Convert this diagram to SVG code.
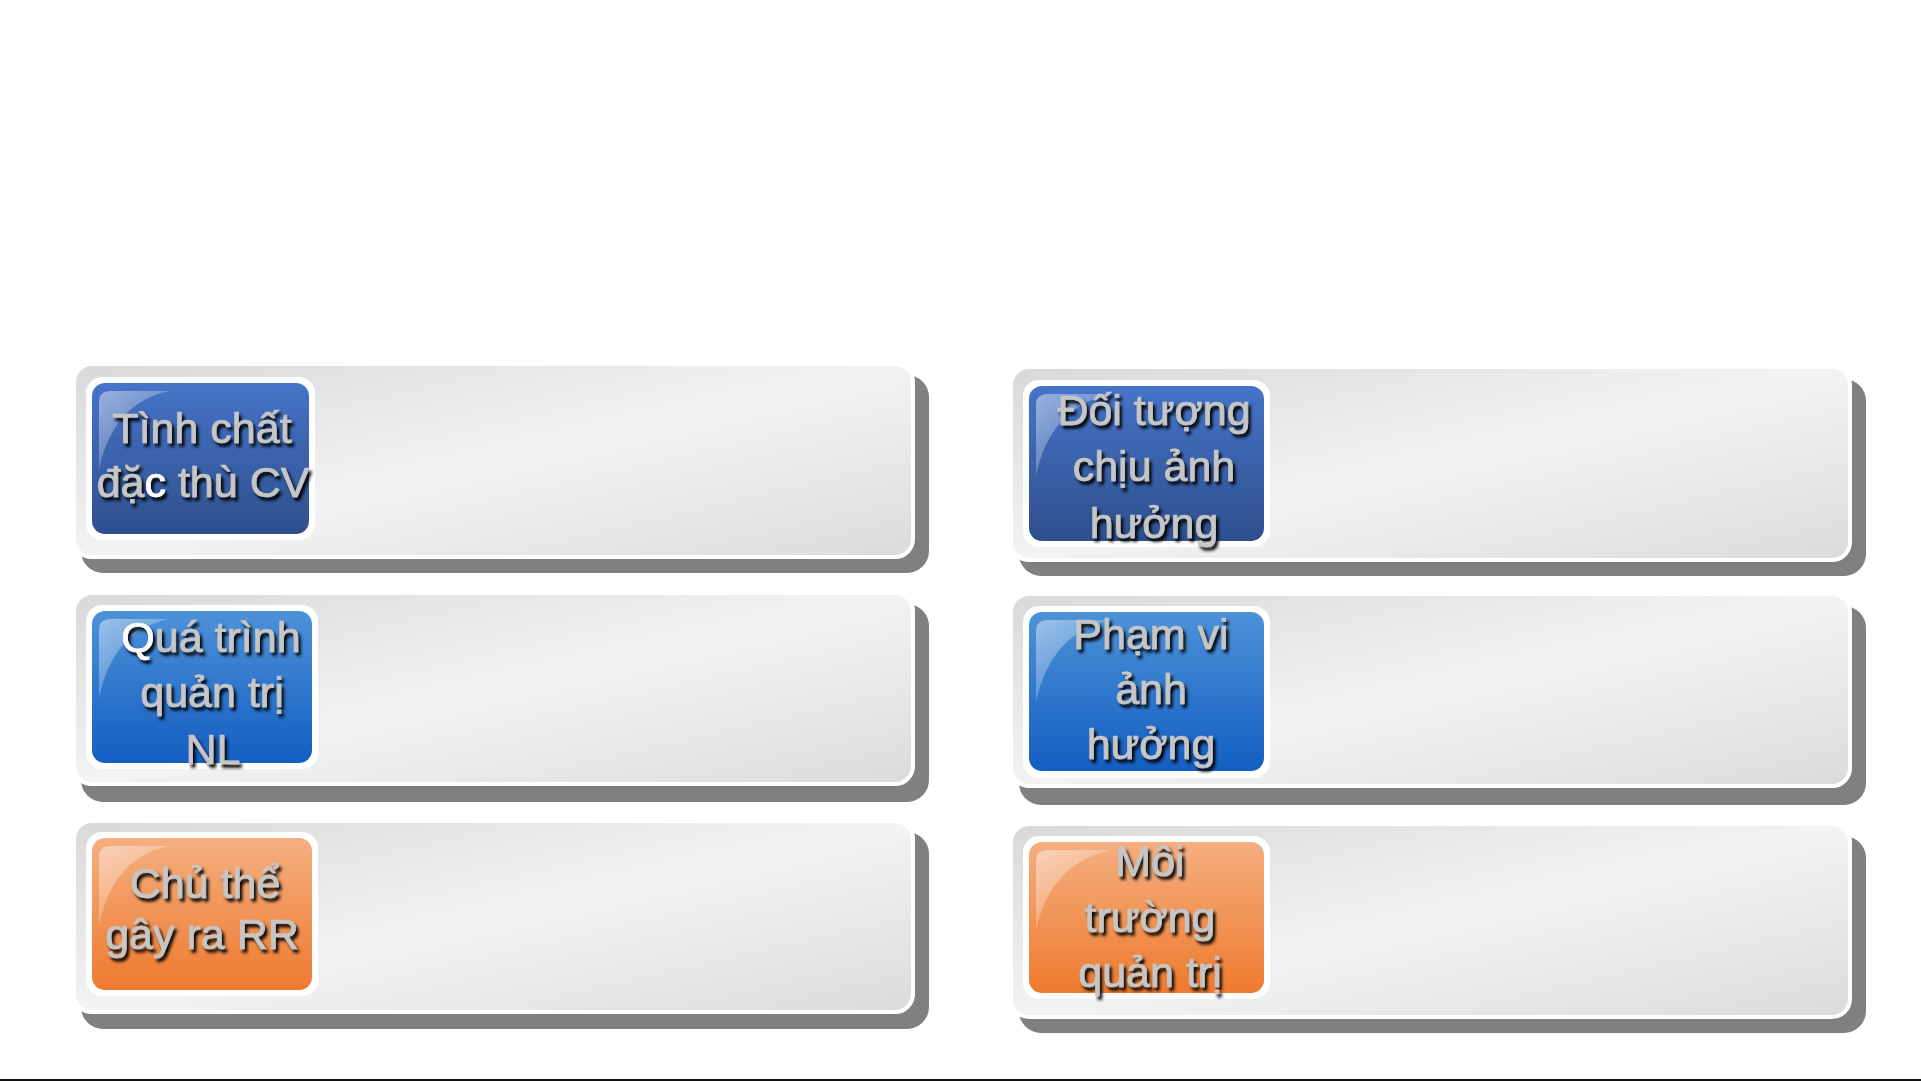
<svg xmlns="http://www.w3.org/2000/svg" width="1921" height="1081" viewBox="0 0 1921 1081">
<defs>
<linearGradient id="gPanel" x1="0" y1="0" x2="1" y2="1">
<stop offset="0" stop-color="#D9D9D9"/>
<stop offset="0.5" stop-color="#F3F3F3"/>
<stop offset="1" stop-color="#DBDBDB"/>
</linearGradient>
<linearGradient id="gDark" x1="0" y1="0" x2="0" y2="1">
<stop offset="0" stop-color="#4674C8"/>
<stop offset="1" stop-color="#2E4F8C"/>
</linearGradient>
<linearGradient id="gBlue" x1="0" y1="0" x2="0" y2="1">
<stop offset="0" stop-color="#4D92D8"/>
<stop offset="1" stop-color="#135EC2"/>
</linearGradient>
<linearGradient id="gOrange" x1="0" y1="0" x2="0" y2="1">
<stop offset="0" stop-color="#F4AF80"/>
<stop offset="1" stop-color="#EE7A2E"/>
</linearGradient>
<linearGradient id="gGloss" x1="0" y1="0" x2="1" y2="1">
<stop offset="0" stop-color="#FFFFFF" stop-opacity="0.45"/>
<stop offset="1" stop-color="#FFFFFF" stop-opacity="0.03"/>
</linearGradient>
<filter id="tsh" x="-10%" y="-10%" width="130%" height="140%">
<feDropShadow dx="2.5" dy="3.5" stdDeviation="1.8" flood-color="#000000" flood-opacity="1"/>
</filter>
</defs>
<style>
.shadow{fill:#808080}
.panel{fill:url(#gPanel);stroke:#FFFFFF;stroke-width:4}
.frame{fill:#FFFFFF}
.dark{fill:url(#gDark)}
.blue{fill:url(#gBlue)}
.orange{fill:url(#gOrange)}
.gloss{fill:url(#gGloss)}
.lbl{font-family:"Liberation Sans","Open Sans",Arial,sans-serif;font-size:43px;fill:#C6C6C6;stroke:#C6C6C6;stroke-width:0.7;text-anchor:middle;filter:url(#tsh)}
.w{fill:#FFFFFF;stroke:#FFFFFF}
</style>
<rect x="0" y="0" width="1921" height="1081" fill="#FFFFFF"/>

<g id="row1-left">
<rect class="shadow" x="81" y="375" width="848" height="198" rx="22"/>
<rect class="panel" x="74" y="364" width="839" height="193" rx="18"/>
<rect class="frame" x="86" y="377" width="229" height="163" rx="16"/>
<rect class="dark" x="92" y="383" width="217" height="151" rx="13"/>
<path class="gloss" d="M99,470 L99,402 Q99,391 111,391 L170,391 Q113,402 99,470 Z"/>
<text class="lbl" x="202" y="443">Tình chất</text>
<text class="lbl" x="203" y="497">đặ<tspan class="w">c</tspan> thù CV</text>
</g>

<g id="row1-right">
<rect class="shadow" x="1019" y="379" width="847" height="197" rx="22"/>
<rect class="panel" x="1011" y="367" width="839" height="193" rx="18"/>
<rect class="frame" x="1023" y="380" width="247" height="167" rx="16"/>
<rect class="dark" x="1029" y="386" width="235" height="155" rx="13"/>
<path class="gloss" d="M1036,475 L1036,405 Q1036,394 1048,394 L1112,394 Q1051,406 1036,475 Z"/>
<text class="lbl" x="1154" y="425">Đối tượng</text>
<text class="lbl" x="1154" y="481">chịu ảnh</text>
<text class="lbl" x="1154" y="538">hưởng</text>
</g>

<g id="row2-left">
<rect class="shadow" x="81" y="604" width="848" height="198" rx="22"/>
<rect class="panel" x="74" y="593" width="839" height="191" rx="18"/>
<rect class="frame" x="86" y="605" width="232" height="164" rx="16"/>
<rect class="blue" x="92" y="611" width="220" height="152" rx="13"/>
<path class="gloss" d="M99,698 L99,630 Q99,619 111,619 L170,619 Q113,630 99,698 Z"/>
<text class="lbl" x="211" y="652"><tspan class="w">Q</tspan>uá trình</text>
<text class="lbl" x="212" y="707">quản trị</text>
<text class="lbl" x="213" y="764">NL</text>
</g>

<g id="row2-right">
<rect class="shadow" x="1019" y="606" width="847" height="199" rx="22"/>
<rect class="panel" x="1011" y="594" width="839" height="192" rx="18"/>
<rect class="frame" x="1023" y="606" width="247" height="172" rx="16"/>
<rect class="blue" x="1029" y="612" width="235" height="159" rx="13"/>
<path class="gloss" d="M1036,702 L1036,631 Q1036,620 1048,620 L1112,620 Q1051,632 1036,702 Z"/>
<text class="lbl" x="1151" y="649">Phạm vi</text>
<text class="lbl" x="1151" y="704">ảnh</text>
<text class="lbl" x="1151" y="759">hưởng</text>
</g>

<g id="row3-left">
<rect class="shadow" x="81" y="832" width="848" height="197" rx="22"/>
<rect class="panel" x="74" y="821" width="839" height="191" rx="18"/>
<rect class="frame" x="86" y="832" width="232" height="164" rx="16"/>
<rect class="orange" x="92" y="838" width="220" height="152" rx="13"/>
<path class="gloss" d="M99,925 L99,857 Q99,846 111,846 L170,846 Q113,857 99,925 Z"/>
<text class="lbl" x="205" y="898">Chủ thể</text>
<text class="lbl" x="202" y="949">gây ra RR</text>
</g>

<g id="row3-right">
<rect class="shadow" x="1019" y="836" width="847" height="197" rx="22"/>
<rect class="panel" x="1011" y="824" width="839" height="193" rx="18"/>
<rect class="frame" x="1023" y="836" width="247" height="163" rx="16"/>
<rect class="orange" x="1029" y="842" width="235" height="151" rx="13"/>
<path class="gloss" d="M1036,930 L1036,861 Q1036,850 1048,850 L1112,850 Q1051,862 1036,930 Z"/>
<text class="lbl" x="1150" y="876">Môi</text>
<text class="lbl" x="1150" y="932">trường</text>
<text class="lbl" x="1150" y="987">quản trị</text>
</g>

<g id="connectors"></g>

<rect x="0" y="1079" width="1921" height="2" fill="#111111"/>
</svg>
